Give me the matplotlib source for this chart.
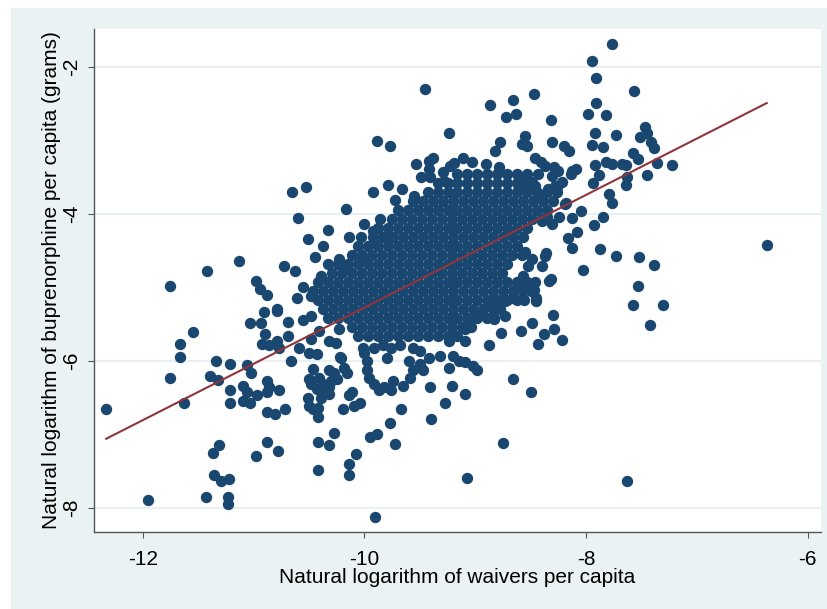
import numpy as np
import matplotlib
matplotlib.use("Agg")
import matplotlib.pyplot as plt
from matplotlib.patches import Rectangle

plt.rcParams['font.family'] = ['Liberation Sans', 'DejaVu Sans']
plt.rcParams['axes.unicode_minus'] = False

# (log waivers per capita, log buprenorphine per capita)
left_tail = [
    (-12.33, -6.66), (-11.95, -7.90), (-11.75, -4.98), (-11.55, -5.60), (-11.66, -5.77),
    (-11.66, -5.94), (-11.75, -6.23), (-11.63, -6.57), (-11.42, -4.77), (-11.13, -4.64),
    (-10.98, -4.91), (-10.94, -5.02), (-10.88, -5.10), (-10.91, -5.33), (-10.79, -5.32),
    (-11.03, -5.49), (-10.93, -5.49), (-10.90, -5.63), (-10.92, -5.77), (-10.86, -5.79),
    (-10.79, -5.73), (-11.34, -6.00), (-11.21, -6.04), (-11.39, -6.20), (-11.32, -6.26),
    (-11.06, -6.05), (-11.02, -6.17), (-11.21, -6.40), (-11.21, -6.57), (-11.10, -6.34),
    (-11.06, -6.43), (-11.10, -6.54), (-11.03, -6.58), (-10.97, -6.47), (-10.88, -6.27),
    (-10.86, -6.36), (-10.88, -6.43), (-10.88, -6.69), (-10.81, -6.72), (-10.88, -7.11),
    (-10.98, -7.30), (-10.78, -7.23), (-11.31, -7.15), (-11.37, -7.26), (-11.36, -7.56),
    (-11.29, -7.63), (-11.22, -7.61), (-11.43, -7.85), (-11.23, -7.85), (-11.23, -7.95),
]

upper_left = [
    (-10.73, -4.71), (-10.63, -4.77), (-10.65, -3.70), (-10.53, -3.63), (-10.60, -4.05),
    (-10.51, -4.34), (-10.37, -4.43), (-10.45, -4.58), (-10.33, -4.22), (-10.39, -4.84),
    (-10.23, -4.61), (-10.16, -4.72), (-10.17, -3.93), (-10.14, -4.31), (-10.03, -4.31),
    (-10.00, -4.14), (-9.92, -4.23), (-9.86, -4.07), (-9.91, -4.38), (-9.78, -4.34),
    (-10.02, -4.58), (-9.89, -3.01), (-9.77, -3.08), (-9.45, -2.30), (-9.24, -2.89),
    (-9.92, -3.70), (-9.79, -3.61), (-9.66, -3.66), (-9.72, -3.81), (-9.55, -3.76),
    (-9.53, -3.32), (-9.42, -3.28), (-9.38, -3.23), (-9.49, -3.50), (-9.41, -3.50),
    (-9.42, -3.39), (-9.29, -3.43), (-9.23, -3.35), (-9.28, -3.55),
]

lower_left = [
    (-10.79, -5.29), (-10.69, -5.47), (-10.69, -5.66), (-10.77, -5.83), (-10.59, -5.83),
    (-10.50, -5.89), (-10.43, -5.90), (-10.66, -6.00), (-10.61, -5.14), (-10.55, -4.99),
    (-10.48, -5.11), (-10.55, -5.44), (-10.48, -5.39), (-10.48, -5.70), (-10.41, -5.59),
    (-10.32, -5.73), (-10.26, -5.75), (-10.23, -5.56), (-10.21, -5.96), (-10.18, -6.09),
    (-10.16, -6.17), (-10.19, -6.65), (-10.14, -6.47), (-10.11, -6.42), (-10.09, -6.61),
    (-10.04, -6.58), (-10.27, -6.98), (-10.32, -7.14), (-10.42, -7.11), (-10.42, -7.49),
    (-10.14, -7.41), (-10.14, -7.56), (-10.08, -7.27), (-9.95, -7.04), (-9.89, -6.99),
    (-9.77, -6.84), (-9.72, -7.13), (-9.67, -6.65), (-9.90, -8.13), (-9.40, -6.79),
    (-9.27, -6.58), (-9.41, -6.36), (-9.21, -6.34), (-9.24, -6.09), (-10.46, -6.11),
    (-10.50, -6.24), (-10.41, -6.23), (-10.48, -6.31), (-10.37, -6.31), (-10.43, -6.38),
    (-10.36, -6.43), (-10.32, -6.36), (-10.30, -6.27), (-10.32, -6.13), (-10.27, -6.16),
    (-10.25, -6.24), (-10.51, -6.50), (-10.50, -6.61), (-10.46, -6.65), (-10.42, -6.77),
    (-10.42, -6.64), (-10.39, -6.51), (-10.32, -6.45), (-10.77, -6.40), (-10.72, -6.65),
    (-10.00, -5.89), (-9.98, -6.00), (-9.98, -6.13), (-9.96, -6.23), (-9.91, -6.31),
    (-9.87, -6.40), (-9.82, -6.36), (-9.76, -6.40), (-9.74, -6.27), (-9.65, -6.34),
    (-9.59, -6.23), (-9.56, -6.13), (-9.50, -6.04), (-9.42, -5.96), (-9.47, -6.13),
    (-9.60, -6.00), (-9.80, -5.96), (-10.01, -5.82), (-9.91, -5.82), (-9.83, -5.79),
    (-9.76, -5.82), (-9.68, -5.79), (-9.56, -5.82), (-9.50, -5.86), (-9.32, -5.93),
    (-9.20, -5.93), (-9.24, -5.73), (-10.22, -5.94),
]

upper_right = [
    (-8.87, -2.52), (-8.66, -2.45), (-8.72, -2.68), (-8.63, -2.64), (-8.47, -2.36),
    (-8.32, -2.72), (-7.95, -1.91), (-7.77, -1.68), (-7.91, -2.15), (-7.57, -2.33),
    (-7.98, -2.64), (-7.82, -2.65), (-7.91, -2.49), (-7.73, -2.93), (-7.92, -2.89),
    (-7.95, -3.06), (-7.85, -3.09), (-8.31, -3.02), (-8.20, -3.08), (-8.15, -3.14),
    (-8.55, -2.94), (-8.58, -3.04), (-8.53, -3.08), (-8.78, -3.02), (-8.82, -3.14),
    (-7.47, -2.82), (-7.51, -2.95), (-7.45, -2.90), (-7.41, -3.02), (-7.39, -3.10),
    (-7.58, -3.17), (-7.53, -3.25), (-7.36, -3.31), (-7.22, -3.33), (-7.45, -3.47),
    (-7.64, -3.33), (-7.68, -3.32), (-7.77, -3.32), (-7.82, -3.29), (-7.92, -3.33),
    (-7.88, -3.47), (-7.94, -3.58), (-7.63, -3.50), (-7.64, -3.61), (-7.79, -3.73),
    (-7.77, -3.85), (-7.85, -4.04), (-7.93, -4.15), (-8.05, -3.96), (-8.13, -4.05),
    (-8.18, -3.85), (-8.08, -4.24), (-8.16, -4.33), (-8.13, -4.46), (-8.03, -4.76),
    (-7.87, -4.48), (-7.73, -4.57), (-7.52, -4.58), (-7.39, -4.69), (-7.53, -4.98),
    (-7.58, -5.24), (-7.31, -5.24), (-7.42, -5.51), (-6.37, -4.42), (-8.33, -4.91),
    (-8.47, -5.03), (-8.45, -5.15), (-8.36, -4.53), (-8.24, -4.04), (-8.35, -4.04),
    (-8.13, -3.42), (-8.09, -3.38), (-8.22, -3.57), (-8.26, -3.63), (-8.14, -3.46),
    (-8.19, -3.86), (-8.40, -4.10), (-8.31, -4.14),
]

lower_right = [
    (-9.05, -5.43), (-9.09, -5.56), (-9.09, -5.73), (-8.88, -5.78), (-8.83, -5.43),
    (-8.77, -5.62), (-8.73, -5.39), (-8.59, -5.59), (-8.49, -5.49), (-8.43, -5.77),
    (-8.38, -5.64), (-8.29, -5.56), (-8.22, -5.71), (-8.30, -5.37), (-8.45, -5.18),
    (-8.73, -5.18), (-8.66, -5.14), (-8.63, -5.02), (-8.55, -5.01), (-8.88, -5.18),
    (-8.94, -5.36), (-9.15, -6.00), (-9.09, -6.02), (-9.02, -6.07), (-8.98, -6.12),
    (-9.09, -6.45), (-8.66, -6.24), (-8.50, -6.42), (-8.75, -7.12), (-9.07, -7.59),
    (-7.63, -7.63), (-8.37, -4.57), (-8.49, -4.61), (-8.55, -4.52), (-8.52, -4.71),
    (-8.40, -4.71), (-8.57, -4.84), (-8.32, -4.88),
]

top_edge = [
    (-9.11, -3.23), (-9.03, -3.29), (-8.90, -3.32), (-8.79, -3.36), (-8.46, -3.23),
    (-8.41, -3.29), (-8.37, -3.35), (-8.29, -3.36), (-8.25, -3.42), (-8.31, -3.48),
    (-8.43, -3.46), (-8.49, -3.57), (-8.58, -3.55), (-8.55, -3.66), (-8.46, -3.62),
    (-8.40, -3.76), (-8.34, -3.66), (-8.28, -3.62), (-9.19, -3.31),
]

# dense middle of the cloud, read row by row
core_row_y = [-3.46, -3.58, -3.70, -3.82, -3.95, -4.07, -4.19, -4.31, -4.43, -4.56,
              -4.68, -4.80, -4.92, -5.05, -5.17, -5.29, -5.41, -5.54, -5.66]
core_row_x = [
    [-9.16, -9.07, -8.98, -8.89, -8.80, -8.71, -8.62, -8.53],
    [-9.34, -9.25, -9.16, -9.07, -8.98, -8.89, -8.80, -8.71, -8.62],
    [-9.43, -9.34, -9.25, -9.16, -9.07, -8.98, -8.89, -8.80, -8.71, -8.62, -8.53, -8.44,
     -8.35, -8.26],
    [-9.56, -9.47, -9.38, -9.29, -9.20, -9.11, -9.02, -8.93, -8.84, -8.75, -8.66, -8.57,
     -8.48, -8.39, -8.30],
    [-9.70, -9.61, -9.52, -9.43, -9.34, -9.25, -9.16, -9.07, -8.98, -8.89, -8.80, -8.71,
     -8.62, -8.53, -8.44, -8.35],
    [-9.75, -9.66, -9.57, -9.48, -9.39, -9.30, -9.21, -9.12, -9.03, -8.94, -8.85, -8.76,
     -8.67, -8.58, -8.49, -8.40],
    [-9.88, -9.79, -9.70, -9.61, -9.52, -9.43, -9.34, -9.25, -9.16, -9.07, -8.98, -8.89,
     -8.80, -8.71, -8.62, -8.53],
    [-9.92, -9.83, -9.74, -9.65, -9.56, -9.47, -9.38, -9.29, -9.20, -9.11, -9.02, -8.93,
     -8.84, -8.75, -8.66, -8.57],
    [-10.06, -9.97, -9.88, -9.79, -9.70, -9.61, -9.52, -9.43, -9.34, -9.25, -9.16, -9.07,
     -8.98, -8.89, -8.80, -8.71, -8.62],
    [-10.11, -10.02, -9.93, -9.84, -9.75, -9.66, -9.57, -9.48, -9.39, -9.30, -9.21, -9.12,
     -9.03, -8.94, -8.85, -8.76, -8.67, -8.58],
    [-10.33, -10.24, -10.15, -10.06, -9.97, -9.88, -9.79, -9.70, -9.61, -9.52, -9.43, -9.34,
     -9.25, -9.16, -9.07, -8.98, -8.89, -8.80, -8.71],
    [-10.29, -10.20, -10.11, -10.02, -9.93, -9.84, -9.75, -9.66, -9.57, -9.48, -9.39, -9.30,
     -9.21, -9.12, -9.03, -8.94, -8.85, -8.76],
    [-10.42, -10.33, -10.24, -10.15, -10.06, -9.97, -9.88, -9.79, -9.70, -9.61, -9.52, -9.43,
     -9.34, -9.25, -9.16, -9.07, -8.98, -8.89, -8.80, -8.71, -8.62, -8.53, -8.46],
    [-10.46, -10.37, -10.28, -10.19, -10.10, -10.01, -9.92, -9.83, -9.74, -9.65, -9.56, -9.47,
     -9.38, -9.29, -9.20, -9.11, -9.02, -8.93, -8.84, -8.75, -8.66, -8.57, -8.50],
    [-10.42, -10.33, -10.24, -10.15, -10.06, -9.97, -9.88, -9.79, -9.70, -9.61, -9.52, -9.43,
     -9.34, -9.25, -9.16, -9.07, -8.98, -8.89, -8.80, -8.71, -8.62, -8.56],
    [-10.37, -10.28, -10.19, -10.10, -10.01, -9.92, -9.83, -9.74, -9.65, -9.56, -9.47, -9.38,
     -9.29, -9.20, -9.11, -9.02, -8.93, -8.84, -8.78],
    [-10.33, -10.24, -10.15, -10.06, -9.97, -9.88, -9.79, -9.70, -9.61, -9.52, -9.43, -9.34,
     -9.25, -9.16, -9.07, -8.98, -8.89, -8.83],
    [-10.11, -10.02, -9.93, -9.84, -9.75, -9.66, -9.57, -9.48, -9.39, -9.30, -9.21, -9.12,
     -9.04],
    [-10.06, -9.97, -9.88, -9.79, -9.70, -9.61, -9.52, -9.43, -9.34, -9.25, -9.16],
]

# fitted line as drawn in the chart
fit_intercept = 2.397
fit_slope = 0.767

x_ticks = [-12, -10, -8, -6]
y_ticks = [-8, -6, -4, -2]

# assemble the observations
pairs = left_tail + upper_left + lower_left + upper_right + lower_right + top_edge
for yy, row in zip(core_row_y, core_row_x):
    pairs += [(xx, yy) for xx in row]
log_waivers = np.array([p[0] for p in pairs])
log_bup = np.array([p[1] for p in pairs])

fig = plt.figure(figsize=(8.28, 6.09), dpi=100)
fig.patch.set_facecolor('white')
fig.add_artist(Rectangle((11 / 828, 0), 1, 601 / 609, transform=fig.transFigure,
                         facecolor='#eaf2f3', edgecolor='none', zorder=0))

ax = fig.add_axes([94 / 828, 77 / 609, 727 / 828, 503 / 609])
ax.set_facecolor('white')

ax.scatter(log_waivers, log_bup, s=67, color='#1a476f', linewidths=0, zorder=2)

xf = np.array([log_waivers.min(), log_waivers.max()])
ax.plot(xf, fit_intercept + fit_slope * xf, color='#90353b', lw=1.5, zorder=3)

ax.set_xlim(-12.44, -5.88)
ax.set_ylim(-8.33, -1.48)
ax.set_xticks(x_ticks)
ax.set_yticks(y_ticks)
ax.set_xticklabels([str(t) for t in x_ticks])
ax.set_yticklabels([str(t) for t in y_ticks], rotation=90, va='center')

ax.yaxis.grid(True, color='#e3edf0', lw=1.2)
ax.xaxis.grid(False)
ax.set_axisbelow(True)

for side in ['top', 'right']:
    ax.spines[side].set_visible(False)
for side in ['left', 'bottom']:
    ax.spines[side].set_color('#555555')
    ax.spines[side].set_linewidth(1.0)

ax.tick_params(direction='out', length=4, width=0.8, color='#555555', labelsize=15)
ax.tick_params(axis='x', pad=9)
ax.tick_params(axis='y', pad=5)

ax.set_xlabel('Natural logarithm of waivers per capita', fontsize=15, labelpad=-1)
ax.set_ylabel('Natural logarithm of buprenorphine per capita (grams)', fontsize=15,
              labelpad=1)

fig.savefig('out.png', dpi=100)
